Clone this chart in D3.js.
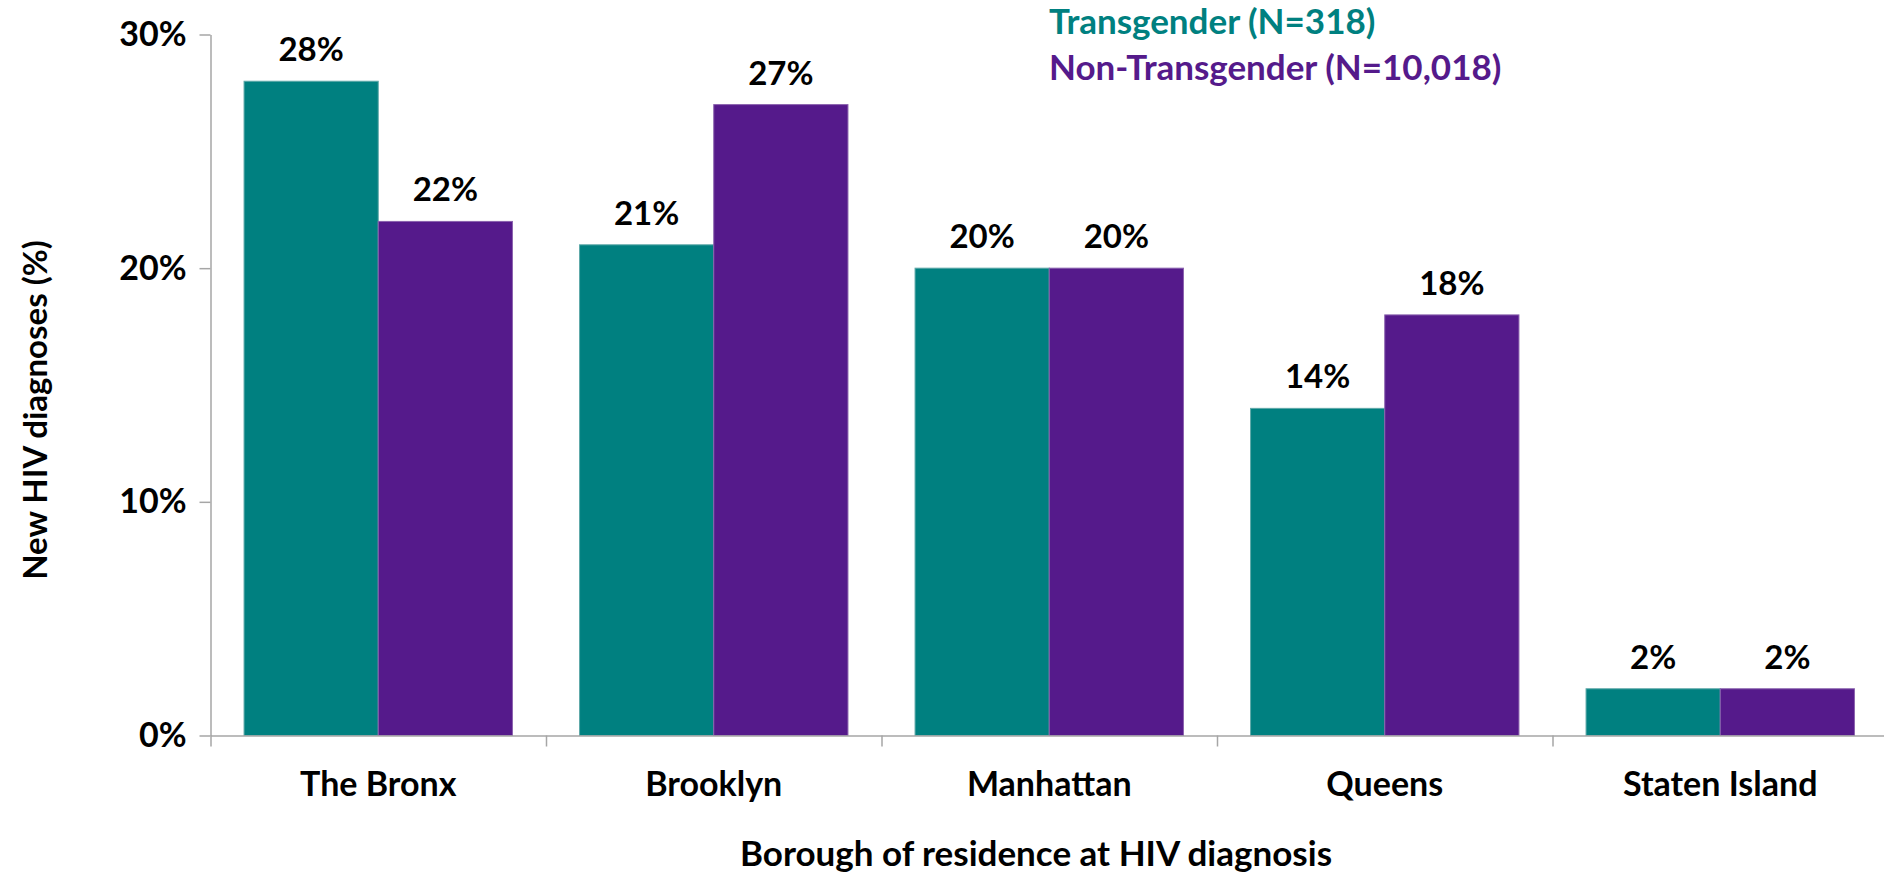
<!DOCTYPE html>
<html>
<head>
<meta charset="utf-8">
<script src="https://cdn.jsdelivr.net/npm/d3@7"></script>
<style>
  body { margin: 0; background: #fff; }
  text { font-family: Lato, "Open Sans", sans-serif; font-weight: bold; }
</style>
</head>
<body>
<script>
// data
const boroughs = ["The Bronx", "Brooklyn", "Manhattan", "Queens", "Staten Island"];
const seriesNames = ["Transgender (N=318)", "Non-Transgender (N=10,018)"];
const transgender = [28, 21, 20, 14, 2];
const nonTransgender = [22, 27, 20, 18, 2];
const yTicks = [0, 10, 20, 30];
const colors = ["#008080", "#551a8b"];

const canvWidth = 1884, canvHeight = 875;
const svg = d3.select("body").append("svg")
    .attr("width", canvWidth)
    .attr("height", canvHeight)

const plotLeft = 210.5, plotRight = 1888, plotTop = 34.5, plotBottom = 735.5;

// scales
const x0 = d3.scaleBand().domain(boroughs).range([plotLeft, plotRight])
    .paddingInner(0.2).paddingOuter(0.1);
const x1 = d3.scaleBand().domain([0, 1]).range([0, x0.bandwidth()]);
const yScale = d3.scaleLinear().domain([0, 30]).range([plotBottom, plotTop]);
const xEdges = d3.scaleLinear().domain([0, boroughs.length]).range([plotLeft, plotRight]);

const rows = boroughs.map((b, i) => ({borough: b, values: [transgender[i], nonTransgender[i]]}));

// bars
const groups = svg.append("g").selectAll("g")
    .data(rows)
    .enter()
    .append("g")
    .attr("transform", d => "translate(" + x0(d.borough) + ",0)");

groups.selectAll("rect")
    .data(d => d.values.map((v, k) => ({v: v, k: k})))
    .enter()
    .append("rect")
    .attr("x", d => x1(d.k))
    .attr("y", d => yScale(d.v))
    .attr("width", x1.bandwidth())
    .attr("height", d => yScale(0) - yScale(d.v))
    .style("fill", d => colors[d.k])
    .style("stroke", d => d.k === 0 ? "#5fa9a9" : "#8a62ae")
    .style("stroke-width", 1);

// value labels
groups.selectAll("text")
    .data(d => d.values.map((v, k) => ({v: v, k: k})))
    .enter()
    .append("text")
    .attr("x", d => x1(d.k) + x1.bandwidth() / 2)
    .attr("y", d => yScale(d.v) - 20)
    .attr("text-anchor", "middle")
    .attr("font-size", "33px")
    .attr("fill", "#000")
    .text(d => d.v + "%");

// y axis
const yAxis = svg.append("g")
    .attr("transform", "translate(" + plotLeft + ",0)")
    .call(d3.axisLeft(yScale).tickValues(yTicks).tickFormat(d => d + "%").tickSize(11).tickPadding(13).tickSizeOuter(0));
yAxis.select(".domain").attr("stroke", "#a6a6a6").attr("stroke-width", 1.5);
yAxis.selectAll(".tick line").attr("stroke", "#a6a6a6").attr("stroke-width", 1.5);
yAxis.selectAll(".tick text")
    .attr("font-size", "34px")
    .attr("font-family", "Lato, 'Open Sans', sans-serif")
    .attr("fill", "#000");

// x axis: boundary ticks
const xAxis = svg.append("g")
    .attr("transform", "translate(0," + plotBottom + ")")
    .call(d3.axisBottom(xEdges).ticks(boroughs.length).tickFormat("").tickSize(11).tickSizeOuter(0));
xAxis.select(".domain").attr("stroke", "#a6a6a6").attr("stroke-width", 1.5);
xAxis.selectAll(".tick line").attr("stroke", "#a6a6a6").attr("stroke-width", 1.5);

// category labels
const xLabels = svg.append("g")
    .attr("transform", "translate(0," + plotBottom + ")")
    .call(d3.axisBottom(x0).tickSize(0).tickPadding(36));
xLabels.select(".domain").remove();
xLabels.selectAll(".tick text")
    .attr("font-size", "34px")
    .attr("font-family", "Lato, 'Open Sans', sans-serif")
    .attr("fill", "#000");

// axis titles
svg.append("text")
    .attr("transform", "translate(47,410) rotate(-90)")
    .attr("text-anchor", "middle")
    .attr("font-size", "33px")
    .text("New HIV diagnoses (%)");

svg.append("text")
    .attr("x", 1036)
    .attr("y", 866)
    .attr("text-anchor", "middle")
    .attr("font-size", "35px")
    .text("Borough of residence at HIV diagnosis");

// legend
svg.selectAll(".legend")
    .data(seriesNames)
    .enter()
    .append("text")
    .attr("class", "legend")
    .attr("x", 1049)
    .attr("y", (d, i) => 34 + i * 46)
    .attr("font-size", "35px")
    .attr("fill", (d, i) => colors[i])
    .text(d => d);
</script>
</body>
</html>
